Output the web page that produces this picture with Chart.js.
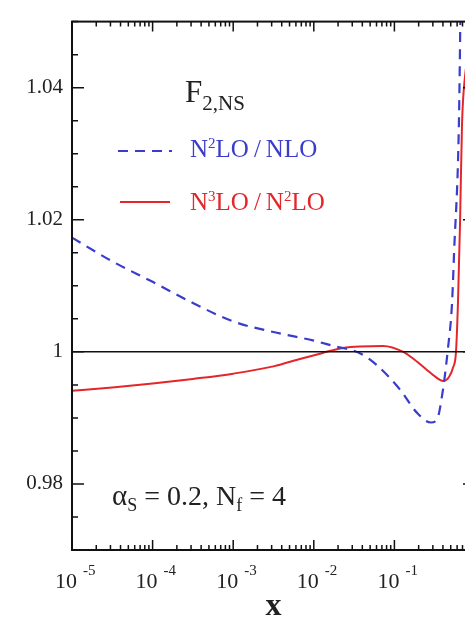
<!DOCTYPE html>
<html>
<head>
<meta charset="utf-8">
<script src="https://cdn.jsdelivr.net/npm/chart.js@4.4.0/dist/chart.umd.min.js"></script>
<style>
  html, body { margin: 0; padding: 0; background: #fff; overflow: hidden; }
  #wrap { width: 490px; height: 621px; }
</style>
</head>
<body>
<div id="wrap"><canvas id="chart" width="490" height="621"></canvas></div>
<script>
// N2LO/NLO (blue dashed)
const xN2 = [1e-5, 3.16e-5, 1e-4, 3.16e-4, 1e-3, 3.16e-3, 0.01, 0.0174, 0.0372, 0.0603, 0.117,
  0.19, 0.284, 0.339, 0.401, 0.427, 0.457, 0.519, 0.55, 0.631, 0.661];
const yN2 = [1.0173, 1.0137, 1.0106, 1.0074, 1.0046, 1.0030, 1.0017, 1.0009, 0.9998, 0.9980, 0.9943,
  0.9908, 0.9893, 0.9898, 0.9943, 0.9968, 1.0000, 1.0074, 1.0150, 1.0344, 1.0520];

// N3LO/N2LO (red solid)
const xN3 = [1e-5, 3.16e-5, 1e-4, 3.16e-4, 1e-3, 3.16e-3, 0.0071, 0.0126, 0.0229, 0.0724, 0.129,
  0.178, 0.251, 0.324, 0.401, 0.476, 0.533, 0.581, 0.615, 0.652, 0.69, 0.752, 0.87];
const yN3 = [0.9941, 0.9946, 0.9952, 0.9959, 0.9967, 0.9978, 0.9990, 0.9998, 1.0006, 1.0009, 1.0000,
  0.9988, 0.9973, 0.9962, 0.9956, 0.9962, 0.9976, 1.0000, 1.0075, 1.0195, 1.0344, 1.0417, 1.0460];

const xTickValues = [1e-5, 1e-4, 1e-3, 1e-2, 1e-1];
const xTickExponents = ['-5', '-4', '-3', '-2', '-1'];
const yTickValues = [0.98, 1, 1.02, 1.04];
const yTickLabels = ['0.98', '1', '1.02', '1.04'];

const BLUE = '#3a3ccc';
const RED = '#e4262a';
const SERIF = '"Liberation Serif", "Times New Roman", serif';

const toPoints = (xs, ys) => xs.map((x, i) => ({ x, y: ys[i] }));

// draw a string made of normal / raised / lowered pieces
function drawRuns(ctx, x, y, runs, color) {
  ctx.fillStyle = color;
  ctx.textAlign = 'left';
  ctx.textBaseline = 'alphabetic';
  runs.forEach(([text, size, dy, bold]) => {
    ctx.font = `${bold ? 'bold ' : ''}${size}px ${SERIF}`;
    ctx.fillText(text, x, y + (dy || 0));
    x += ctx.measureText(text).width;
  });
}

const decorations = {
  id: 'decorations',
  afterDatasetsDraw(chart) {
    const { ctx, chartArea: a, scales: { x, y } } = chart;
    ctx.save();

    // frame
    ctx.strokeStyle = '#111';
    ctx.lineWidth = 2;
    ctx.strokeRect(a.left, a.top, a.right - a.left, a.bottom - a.top);

    // inward ticks
    ctx.lineWidth = 1.5;
    ctx.beginPath();
    for (let e = -5; e < 0; e++) {
      for (let m = 1; m <= 9; m++) {
        const px = x.getPixelForValue(m * Math.pow(10, e));
        const len = m === 1 ? 10 : 5;
        ctx.moveTo(px, a.bottom); ctx.lineTo(px, a.bottom - len);
        ctx.moveTo(px, a.top); ctx.lineTo(px, a.top + len);
      }
    }
    for (let k = 0; k <= 16; k++) {
      const py = y.getPixelForValue(0.97 + k * 0.005);
      const len = k % 4 === 2 ? 12 : 6;
      ctx.moveTo(a.left, py); ctx.lineTo(a.left + len, py);
      ctx.moveTo(a.right, py); ctx.lineTo(a.right - len, py);
    }
    ctx.stroke();

    // x tick labels 10^n
    xTickValues.forEach((v, i) => {
      const px = x.getPixelForValue(v);
      drawRuns(ctx, px - 17, a.bottom + 38, [['10', 22]], '#222');
      drawRuns(ctx, px + 11, a.bottom + 25, [[xTickExponents[i], 15]], '#222');
    });

    // axis title
    ctx.font = `bold 32px ${SERIF}`;
    ctx.textAlign = 'center';
    ctx.fillStyle = '#222';
    ctx.fillText('x', (a.left + a.right) / 2, a.bottom + 65);

    // F_{2,NS}
    drawRuns(ctx, 185, 102, [['F', 31], ['2,NS', 21, 8]], '#222');

    // legend
    ctx.lineWidth = 2;
    ctx.strokeStyle = BLUE;
    ctx.setLineDash([10, 7]);
    ctx.beginPath(); ctx.moveTo(118, 151); ctx.lineTo(172, 151); ctx.stroke();
    ctx.setLineDash([]);
    ctx.strokeStyle = RED;
    ctx.beginPath(); ctx.moveTo(120, 202); ctx.lineTo(170, 202); ctx.stroke();
    drawRuns(ctx, 190, 157, [['N', 25], ['2', 15, -9], ['LO\u2009/\u2009NLO', 25]], BLUE);
    drawRuns(ctx, 190, 210, [['N', 25], ['3', 15, -9], ['LO\u2009/\u2009N', 25], ['2', 15, -9], ['LO', 25]], RED);

    // parameters
    drawRuns(ctx, 112, 505, [['\u03b1', 29], ['S', 18, 6], [' = 0.2, N', 28], ['f', 18, 6], [' = 4', 28]], '#222');

    ctx.restore();
  }
};

new Chart(document.getElementById('chart'), {
  type: 'line',
  data: {
    datasets: [
      {
        label: 'unity',
        data: [{ x: 1e-5, y: 1 }, { x: 1, y: 1 }],
        borderColor: '#111',
        borderWidth: 1.5,
        pointRadius: 0
      },
      {
        label: 'N2LO/NLO',
        data: toPoints(xN2, yN2),
        borderColor: BLUE,
        borderWidth: 2.2,
        borderDash: [10, 7],
        pointRadius: 0,
        cubicInterpolationMode: 'monotone'
      },
      {
        label: 'N3LO/N2LO',
        data: toPoints(xN3, yN3),
        borderColor: RED,
        borderWidth: 2,
        pointRadius: 0,
        cubicInterpolationMode: 'monotone'
      }
    ]
  },
  options: {
    responsive: false,
    animation: false,
    events: [],
    layout: { padding: { top: 14, right: 15, left: 0, bottom: 0 } },
    plugins: { legend: { display: false }, tooltip: { enabled: false } },
    scales: {
      x: {
        type: 'logarithmic',
        min: 1e-5,
        max: 1,
        ticks: { display: false },
        grid: { display: false, drawTicks: false },
        border: { display: false },
        afterFit: (s) => { s.height = 71; }
      },
      y: {
        type: 'linear',
        min: 0.97,
        max: 1.05,
        afterBuildTicks: (s) => { s.ticks = yTickValues.map((v) => ({ value: v })); },
        ticks: {
          callback: (v) => yTickLabels[yTickValues.indexOf(v)],
          font: { family: SERIF, size: 21 },
          color: '#222',
          padding: 9
        },
        grid: { display: false, drawTicks: false },
        border: { display: false },
        afterFit: (s) => { s.width = 72; }
      }
    }
  },
  plugins: [decorations]
});
</script>
</body>
</html>
